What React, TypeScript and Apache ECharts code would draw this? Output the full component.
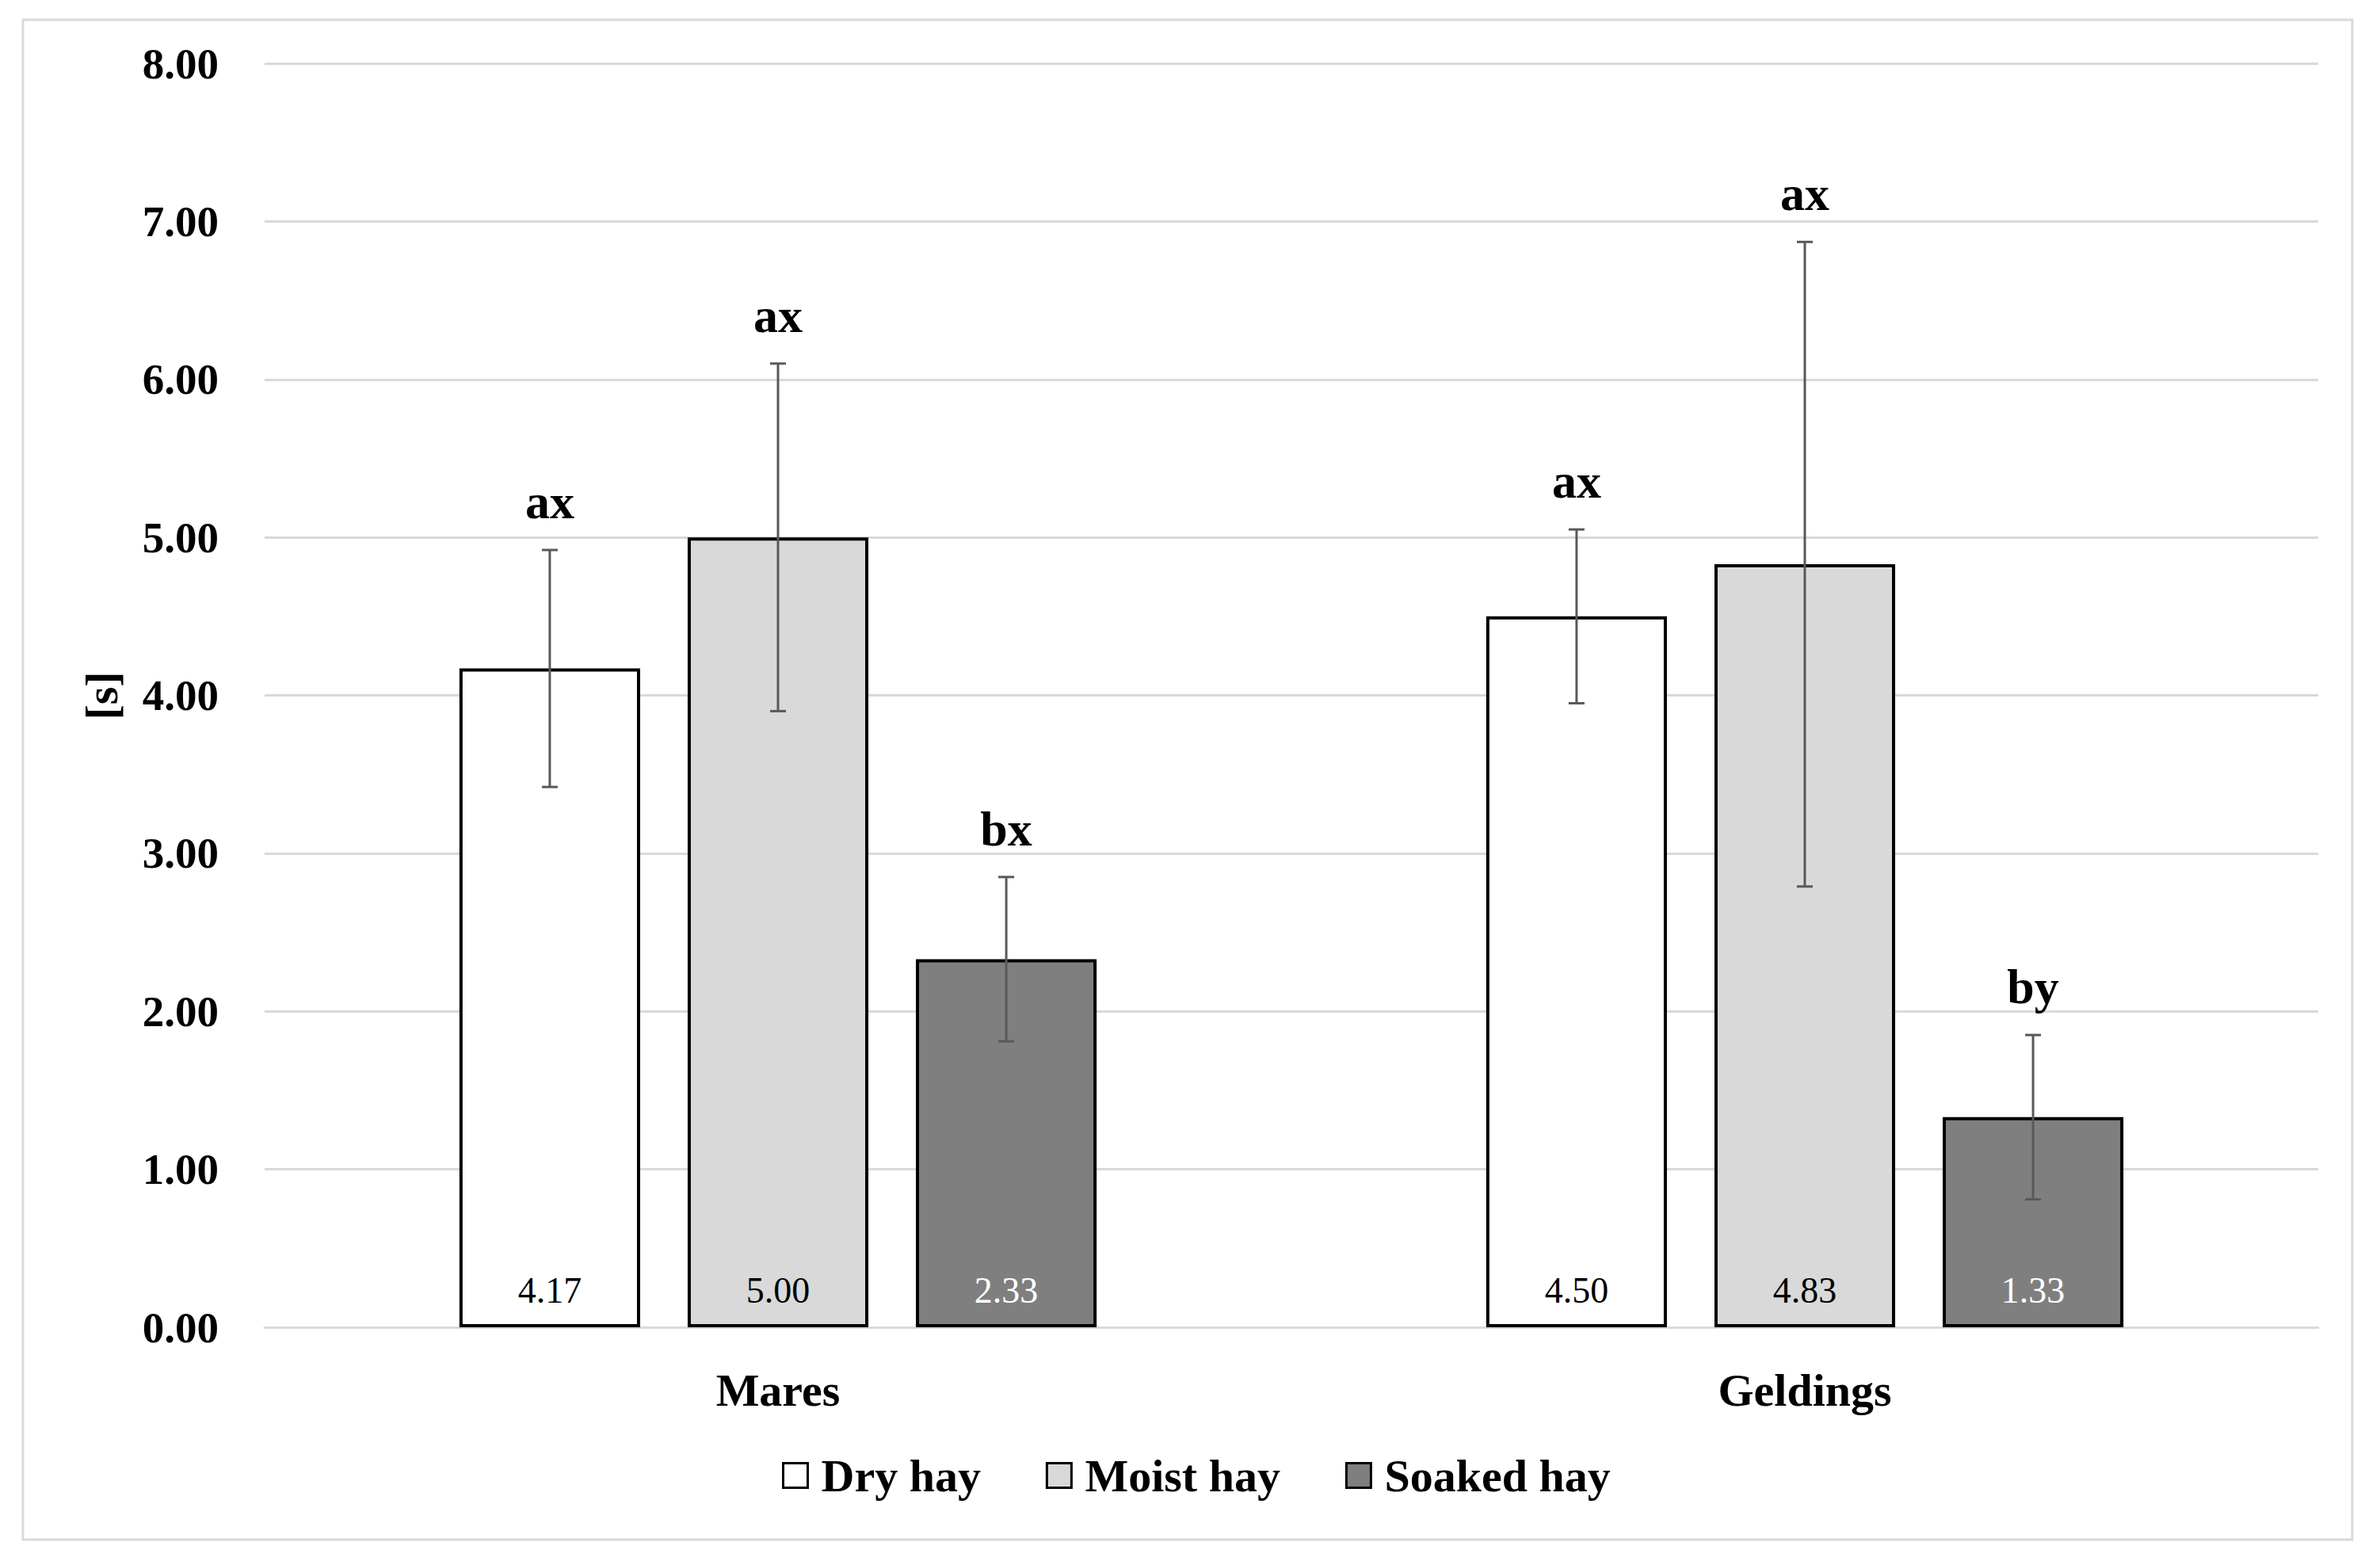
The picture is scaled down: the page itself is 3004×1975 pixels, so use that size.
import React, { useEffect, useRef } from "react";
import * as echarts from "echarts";

const categories = ["Mares", "Geldings"];
const seriesNames = ["Dry hay", "Moist hay", "Soaked hay"];
const dryMeans = [4.17, 4.5];
const moistMeans = [5.0, 4.83];
const soakedMeans = [2.33, 1.33];
const dryErr = [0.75, 0.55];
const moistErr = [1.1, 2.04];
const soakedErr = [0.52, 0.52];
const dryLetters = ["ax", "ax"];
const moistLetters = ["ax", "ax"];
const soakedLetters = ["bx", "by"];
const barColors = ["#ffffff", "#d9d9d9", "#7f7f7f"];
const valueLabelColors = ["#000000", "#000000", "#ffffff"];

const FONT = "'Liberation Serif', 'Times New Roman', serif";
const BAR_W = 0.176;
const BAR_GAP = 0.263;

export default function App() {
  const ref = useRef<HTMLDivElement>(null);

  useEffect(() => {
    document.body.style.margin = "0";
    if (!ref.current) return;
    const chart = echarts.init(ref.current, null, { renderer: "svg" });

    const means = [dryMeans, moistMeans, soakedMeans];
    const errs = [dryErr, moistErr, soakedErr];
    const letters = [dryLetters, moistLetters, soakedLetters];

    const errData: number[][] = [];
    const errLetters: string[] = [];
    means.forEach((m, k) => {
      m.forEach((v, c) => {
        errData.push([c, v - errs[k][c], v + errs[k][c], k]);
        errLetters.push(letters[k][c]);
      });
    });

    const barSeries = seriesNames.map((name, k) => ({
      name,
      type: "bar",
      data: means[k],
      barWidth: BAR_W * 100 + "%",
      barGap: BAR_GAP * 100 + "%",
      itemStyle: { color: barColors[k], borderColor: "#000", borderWidth: 4 },
      label: {
        show: true,
        position: "insideBottom",
        distance: 24,
        formatter: (p: any) => Number(p.value).toFixed(2),
        color: valueLabelColors[k],
        fontSize: 46,
        fontFamily: FONT,
      },
      z: 2,
    }));

    const option: any = {
      animation: false,
      backgroundColor: "#ffffff",
      grid: { left: 334, right: 78, top: 80, bottom: 300, containLabel: false },
      xAxis: {
        type: "category",
        data: categories,
        axisLine: { show: true, lineStyle: { color: "#d9d9d9", width: 3 } },
        axisTick: { show: false },
        axisLabel: {
          color: "#000",
          fontSize: 58,
          fontWeight: "bold",
          fontFamily: FONT,
          margin: 50,
          lineHeight: 58,
        },
      },
      yAxis: {
        type: "value",
        min: 0,
        max: 8,
        interval: 1,
        axisLine: { show: false },
        axisTick: { show: false },
        splitLine: { lineStyle: { color: "#d9d9d9", width: 3 } },
        axisLabel: {
          color: "#000",
          fontSize: 55,
          fontWeight: "bold",
          fontFamily: FONT,
          margin: 58,
          formatter: (v: number) => v.toFixed(2),
        },
      },
      legend: {
        data: seriesNames,
        left: 987,
        top: 1833,
        padding: 0,
        icon: "rect",
        itemWidth: 31,
        itemHeight: 31,
        itemGap: 82,
        itemStyle: { borderColor: "#000", borderWidth: 3 },
        textStyle: {
          color: "#000",
          fontSize: 58,
          fontWeight: "bold",
          fontFamily: FONT,
          lineHeight: 58,
          padding: [0, 0, 0, 12],
        },
      },
      graphic: [
        {
          type: "rect",
          shape: { x: 29, y: 25, width: 2940, height: 1918 },
          style: { fill: "none", stroke: "#d9d9d9", lineWidth: 3 },
          z: -10,
          silent: true,
        },
        {
          type: "text",
          x: 128,
          y: 878,
          rotation: Math.PI / 2,
          style: {
            text: "[s]",
            fontSize: 58,
            fontWeight: "bold",
            fontFamily: FONT,
            fill: "#000",
            align: "center",
            verticalAlign: "middle",
          },
        },
      ],
      series: [
        ...barSeries,
        {
          type: "custom",
          name: "errors",
          data: errData,
          encode: { x: 0, y: [1, 2] },
          z: 5,
          clip: false,
          renderItem: (params: any, api: any) => {
            const cat = api.value(0);
            const k = api.value(3);
            const lo = api.coord([cat, api.value(1)]);
            const hi = api.coord([cat, api.value(2)]);
            const band = api.size([1, 0])[0];
            const spacing = band * BAR_W * (1 + BAR_GAP);
            const x = lo[0] + (k - 1) * spacing;
            const cap = 10;
            const ls = { stroke: "#595959", lineWidth: 3 };
            return {
              type: "group",
              children: [
                { type: "line", shape: { x1: x, y1: lo[1], x2: x, y2: hi[1] }, style: ls },
                { type: "line", shape: { x1: x - cap, y1: lo[1], x2: x + cap, y2: lo[1] }, style: ls },
                { type: "line", shape: { x1: x - cap, y1: hi[1], x2: x + cap, y2: hi[1] }, style: ls },
                {
                  type: "text",
                  x: x,
                  y: hi[1] - 30,
                  style: {
                    text: errLetters[params.dataIndex],
                    fontSize: 62,
                    fontWeight: "bold",
                    fontFamily: FONT,
                    fill: "#000",
                    align: "center",
                    verticalAlign: "bottom",
                  },
                },
              ],
            };
          },
        },
      ],
    };

    chart.setOption(option);
    return () => chart.dispose();
  }, []);

  return <div ref={ref} style={{ width: 3004, height: 1975 }} />;
}
